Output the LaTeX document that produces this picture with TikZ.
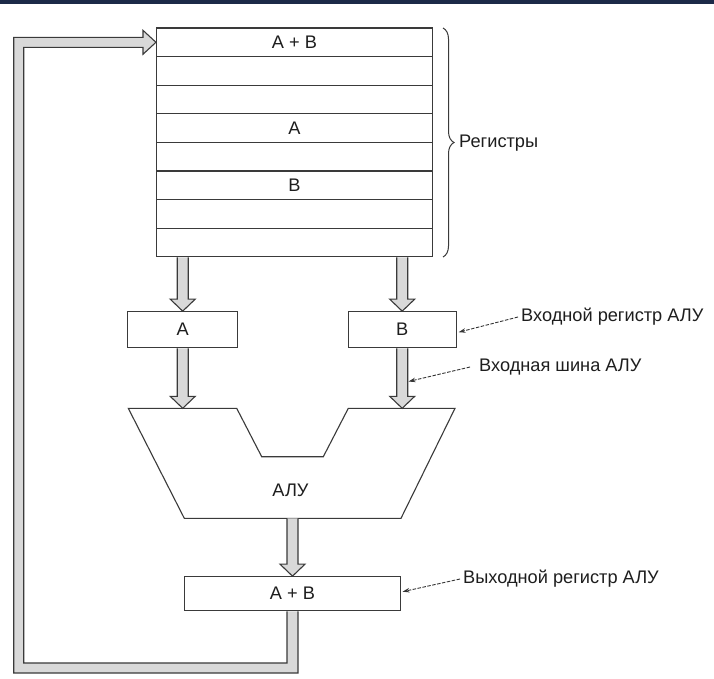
\documentclass[tikz,border=0pt]{standalone}
\usepackage{fontspec}
\setmainfont{Liberation Sans}
\usetikzlibrary{calc,arrows.meta,decorations.pathreplacing}
\definecolor{linec}{HTML}{3A3A3A}
\definecolor{arrfill}{HTML}{D9D9D9}
\definecolor{txtc}{HTML}{1E1E1E}
\definecolor{topbar}{HTML}{1C2A48}
\newcommand\blockdown[2]{%
  \filldraw[barrow] let \p1=#1, \p2=#2 in
   (\x1-5.5pt,\y1) -- (\x1-5.5pt,\y2+12pt) -- (\x1-12.5pt,\y2+12pt) -- (\x1,\y2)
   -- (\x1+12.5pt,\y2+12pt) -- (\x1+5.5pt,\y2+12pt) -- (\x1+5.5pt,\y1);}
\begin{document}
\begin{tikzpicture}[x=1pt,y=-1pt,
  txt/.style={text=txtc,font=\fontsize{18.2}{21}\selectfont},
  regrow/.style={draw=linec,line width=1.1pt,minimum width=276pt,minimum height=28.6pt,inner sep=0pt,txt},
  regbox/.style={draw=linec,line width=1.1pt,minimum height=36pt,inner sep=0pt,txt},
  boxline/.style={draw=linec,line width=1.1pt},
  barrow/.style={draw=linec,fill=arrfill,line width=1.1pt,line join=miter},
  annot/.style={draw=linec!90!black,line width=0.9pt,dash pattern=on 3.5pt off 1.5pt,-{Stealth[length=7pt,width=4.5pt]}},
  lbl/.style={txt,anchor=west,inner sep=0pt}]
\useasboundingbox[fill=white] (0,0) rectangle (714,678);
\fill[topbar] (0,0) rectangle (714,4);
% register file
\node[regrow] (r1) at (294.5,42.3) {A + B};
\node[regrow] (r2) at (294.5,70.9) {};
\node[regrow] (r3) at (294.5,99.5) {};
\node[regrow] (r4) at (294.5,128.1) {A};
\node[regrow] (r5) at (294.5,156.7) {};
\node[regrow] (r6) at (294.5,185.3) {B};
\node[regrow] (r7) at (294.5,213.9) {};
\node[regrow] (r8) at (294.5,242.5) {};
\draw[linec,line width=1pt,decorate,decoration={brace,amplitude=11pt}] (443,28) -- (443,257);
\node[lbl] (regl) at (459,143) {Регистры};
% ALU input registers
\node[regbox,minimum width=109.7pt] (ra) at (182.7,329.7) {A};
\node[regbox,minimum width=107.7pt] (rb) at (402.2,329.7) {B};
% ALU
\coordinate (aluA) at (182.7,408.3);
\coordinate (aluB) at (402.2,408.3);
\coordinate (aluO) at (292.5,518.3);
\draw[boxline,line join=miter] (128.3,408.3) -- (236.7,408.3) -- (261.7,456.7) -- (323.3,456.7)
  -- (348.3,408.3) -- (455,408.3) -- (401,518.3) -- (184.3,518.3) -- cycle;
\node[txt] (alu) at (290.5,490) {АЛУ};
% output register
\node[regbox,minimum width=216pt,minimum height=34pt] (out) at (292.5,593.7) {A + B};
% block arrows
\blockdown{(r8.south -| ra.north)}{(ra.north)}
\blockdown{(r8.south -| rb.north)}{(rb.north)}
\blockdown{(ra.south)}{(aluA)}
\blockdown{(rb.south)}{(aluB)}
\blockdown{(aluO)}{(out.north)}
% feedback
\coordinate (fb) at (18.7,668);
\filldraw[barrow] let \p1=(out.south), \p2=(r1.west), \p3=(fb) in
  (\x1+5.5pt,\y1) -- (\x1+5.5pt,\y3-5pt) -- (\x3-5pt,\y3-5pt) -- (\x3-5pt,\y2+5pt)
  -- (\x2-13pt,\y2+5pt) -- (\x2-13pt,\y2+12pt) -- (\x2,\y2) -- (\x2-13pt,\y2-12pt)
  -- (\x2-13pt,\y2-5pt) -- (\x3+5pt,\y2-5pt) -- (\x3+5pt,\y3+5pt) -- (\x1-5.5pt,\y3+5pt)
  -- (\x1-5.5pt,\y1);
% annotations
\node[lbl] (l1) at (521,317) {Входной регистр АЛУ};
\node[lbl] (l2) at (479,367) {Входная шина АЛУ};
\node[lbl] (l3) at (463,579) {Выходной регистр АЛУ};
\coordinate (busB) at (408.5,381.5);
\draw[annot] ($(l1.west)+(-3,0)$) -- ($(rb.east)+(2,2.5)$);
\draw[annot] ($(l2.west)+(-9,0)$) -- (busB);
\draw[annot] ($(l3.west)+(-3,0)$) -- ($(out.east)+(1.5,-2)$);
\end{tikzpicture}
\end{document}
